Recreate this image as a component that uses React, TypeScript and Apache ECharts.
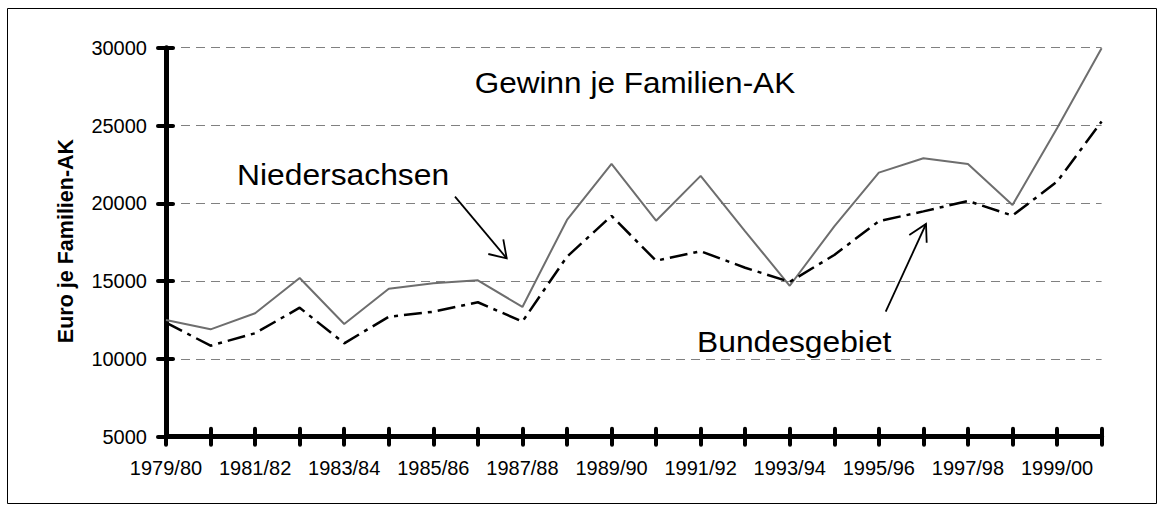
import React, { useEffect, useRef } from "react";
import * as echarts from "echarts";

const categories = [
  "1979/80", "1980/81", "1981/82", "1982/83", "1983/84", "1984/85", "1985/86", "1986/87",
  "1987/88", "1988/89", "1989/90", "1990/91", "1991/92", "1992/93", "1993/94", "1994/95",
  "1995/96", "1996/97", "1997/98", "1998/99", "1999/00", "2000/01",
];

const niedersachsen = [
  12500, 11900, 12930, 15200, 12240, 14510, 14860, 15050, 13340, 18930, 22530,
  18880, 21760, 18200, 14700, 18520, 21970, 22900, 22530, 19890, 24820, 29970,
];

const bundesgebiet = [
  12330, 10850, 11650, 13290, 11000, 12710, 13030, 13640, 12400, 16570, 19190,
  16310, 16920, 15860, 14950, 16680, 18850, 19480, 20150, 19210, 21390, 25250,
];

const yTicks = { min: 5000, max: 30000, interval: 5000 };

const chartTitle = "Gewinn je Familien-AK";
const yAxisName = "Euro je Familien-AK";
const labelNieder = "Niedersachsen";
const labelBund = "Bundesgebiet";

const FONT = "'Liberation Sans', Arial, Helvetica, sans-serif";

export default function App() {
  const ref = useRef<HTMLDivElement>(null);

  useEffect(() => {
    document.body.style.margin = "0";
    if (!ref.current) return;
    const chart = echarts.init(ref.current, undefined, { renderer: "svg" });

    const baseX = {
      type: "category" as const,
      data: categories,
      boundaryGap: false,
      position: "bottom" as const,
      gridIndex: 0,
    };

    const option = {
      animation: false,
      backgroundColor: "#ffffff",
      grid: { left: 166, right: 57.4, top: 47.7, bottom: 74.3, containLabel: false },
      xAxis: [
        {
          ...baseX,
          axisLine: { show: true, lineStyle: { color: "#000", width: 5 } },
          axisTick: {
            show: true,
            inside: false,
            length: 8,
            interval: 0,
            lineStyle: { color: "#000", width: 4, cap: "round" },
          },
          axisLabel: {
            interval: 1,
            color: "#000",
            fontSize: 20,
            fontFamily: FONT,
            margin: 21,
          },
          splitLine: { show: false },
        },
        {
          ...baseX,
          axisLine: { show: false },
          axisTick: {
            show: true,
            inside: true,
            length: 8,
            interval: 0,
            lineStyle: { color: "#000", width: 4, cap: "round" },
          },
          axisLabel: { show: false },
          splitLine: { show: false },
        },
      ],
      yAxis: [
        {
          type: "value",
          position: "left",
          min: yTicks.min,
          max: yTicks.max,
          interval: yTicks.interval,
          axisLine: { show: true, lineStyle: { color: "#000", width: 5 } },
          axisTick: {
            show: true,
            inside: false,
            length: 8,
            lineStyle: { color: "#000", width: 4, cap: "round" },
          },
          axisLabel: {
            color: "#000",
            fontSize: 20,
            fontFamily: FONT,
            margin: 19,
            formatter: (v: number) => String(v),
          },
          splitLine: {
            show: true,
            lineStyle: { color: "#808080", width: 1, type: [9, 6] },
          },
        },
        {
          type: "value",
          position: "left",
          min: yTicks.min,
          max: yTicks.max,
          interval: yTicks.interval,
          axisLine: { show: false },
          axisTick: {
            show: true,
            inside: true,
            length: 7,
            lineStyle: { color: "#000", width: 4, cap: "round" },
          },
          axisLabel: { show: false },
          splitLine: { show: false },
        },
      ],
      series: [
        {
          name: labelNieder,
          type: "line",
          xAxisIndex: 0,
          yAxisIndex: 0,
          data: niedersachsen,
          symbol: "none",
          lineStyle: { color: "#6e6e6e", width: 2 },
          z: 3,
        },
        {
          name: labelBund,
          type: "line",
          xAxisIndex: 0,
          yAxisIndex: 0,
          data: bundesgebiet,
          symbol: "none",
          lineStyle: { color: "#000", width: 2.5, type: [18, 6, 4, 6] },
          z: 4,
        },
      ],
      graphic: [
        {
          type: "rect",
          silent: true,
          shape: { x: 7.5, y: 8.5, width: 1149, height: 495 },
          style: { fill: "none", stroke: "#000", lineWidth: 1 },
        },
        {
          type: "text",
          x: 635,
          y: 83,
          scaleX: 1.05,
          style: {
            text: chartTitle,
            fontSize: 30,
            fontFamily: FONT,
            fill: "#000",
            textAlign: "center",
            textVerticalAlign: "middle",
          },
        },
        {
          type: "text",
          x: 66,
          y: 241,
          rotation: Math.PI / 2,
          style: {
            text: yAxisName,
            fontSize: 21.5,
            fontWeight: "bold",
            fontFamily: FONT,
            fill: "#000",
            textAlign: "center",
            textVerticalAlign: "middle",
          },
        },
        {
          type: "text",
          x: 237,
          y: 174.6,
          scaleX: 1.06,
          style: {
            text: labelNieder,
            fontSize: 30,
            fontFamily: FONT,
            fill: "#000",
            textAlign: "left",
            textVerticalAlign: "middle",
          },
        },
        {
          type: "text",
          x: 697,
          y: 342.3,
          scaleX: 1.06,
          style: {
            text: labelBund,
            fontSize: 30,
            fontFamily: FONT,
            fill: "#000",
            textAlign: "left",
            textVerticalAlign: "middle",
          },
        },
        {
          type: "line",
          shape: { x1: 455, y1: 196.7, x2: 506.7, y2: 258.3 },
          style: { stroke: "#000", lineWidth: 1.8 },
        },
        {
          type: "polyline",
          shape: { points: [[503.3, 239.3], [506.7, 258.3], [488.3, 254]] },
          style: { stroke: "#000", lineWidth: 1.8, fill: "none" },
        },
        {
          type: "line",
          shape: { x1: 885.7, y1: 311.7, x2: 926, y2: 224 },
          style: { stroke: "#000", lineWidth: 1.8 },
        },
        {
          type: "polyline",
          shape: { points: [[926.7, 242.7], [926, 224], [909.3, 235]] },
          style: { stroke: "#000", lineWidth: 1.8, fill: "none" },
        },
      ],
    };

    chart.setOption(option as any);
    return () => {
      chart.dispose();
    };
  }, []);

  return <div ref={ref} style={{ width: 1159, height: 511 }} />;
}
